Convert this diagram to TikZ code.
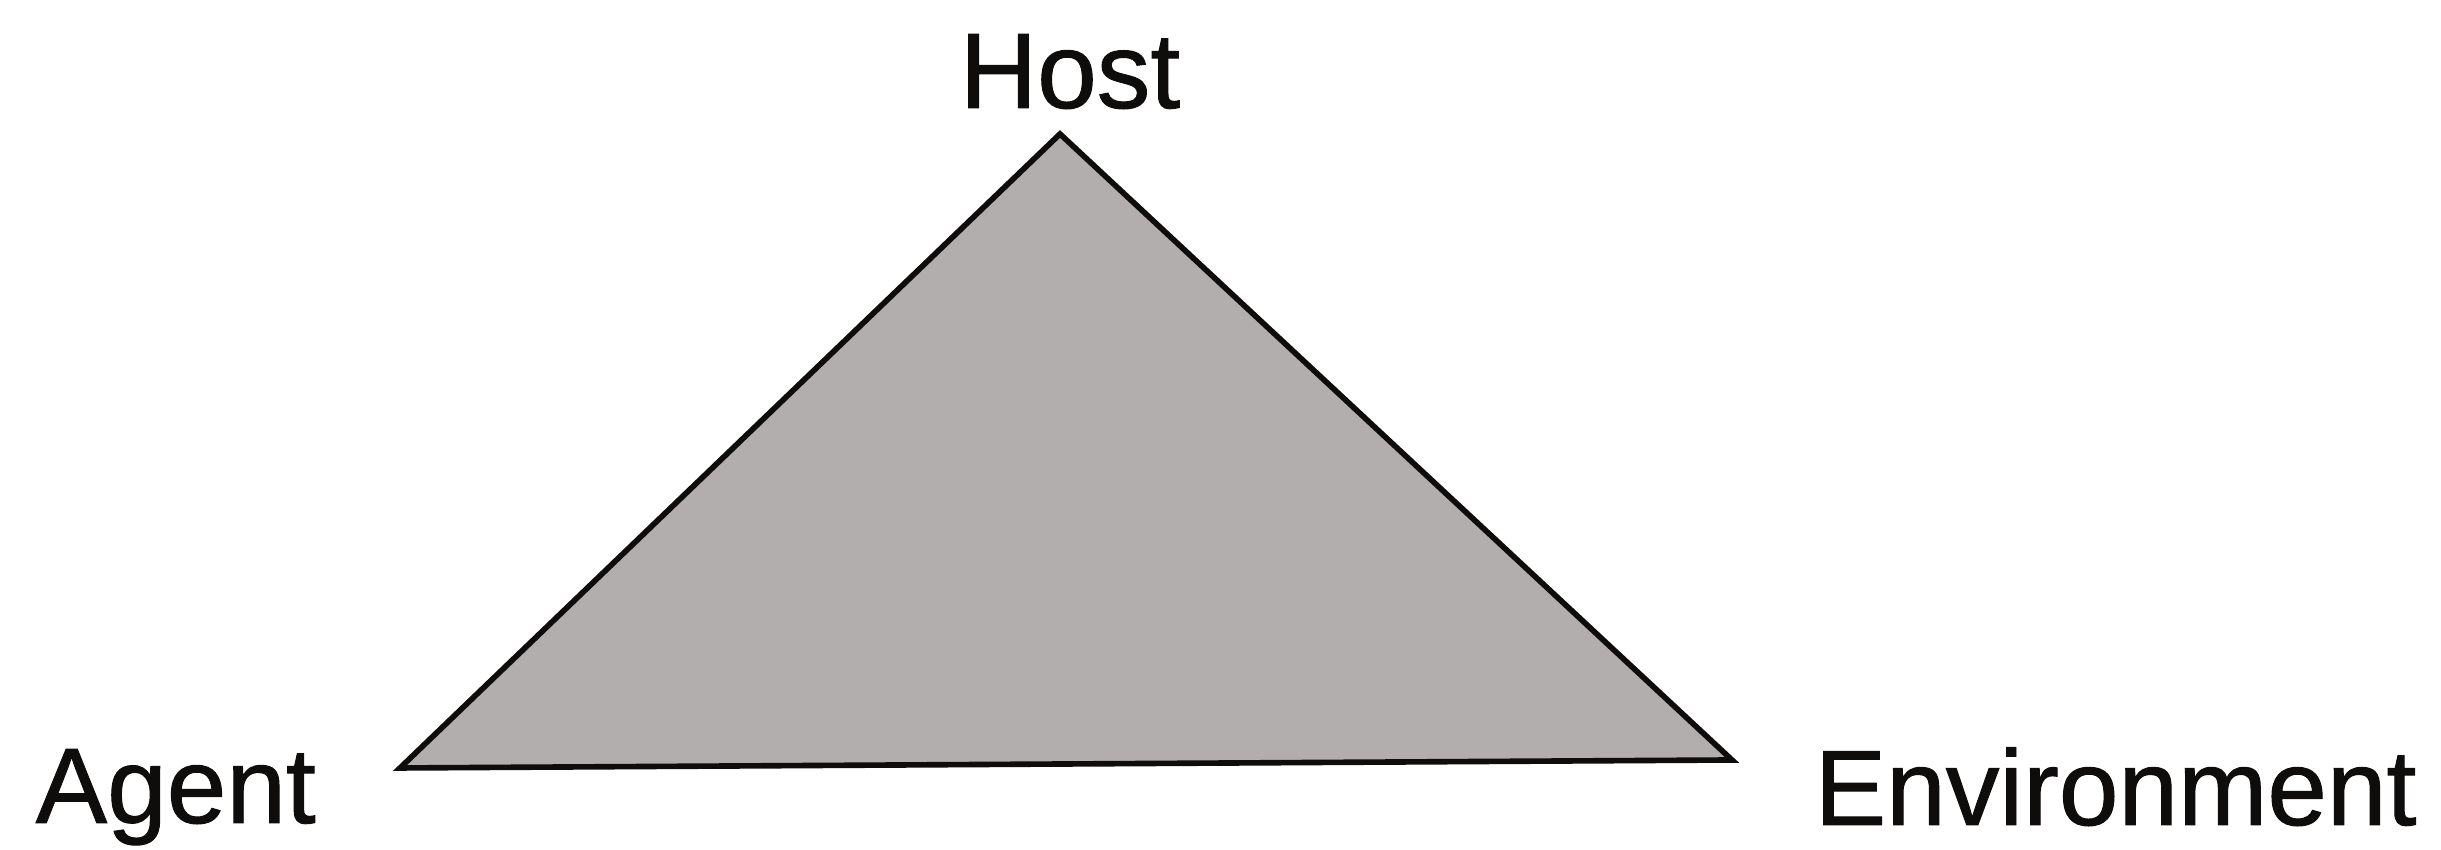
\documentclass[tikz,border=0pt]{standalone}
\usepackage{xcolor}
\usepackage{fontspec}
\setmainfont{Liberation Sans}
\newfontfamily\labelfont[FakeBold=0.9]{Liberation Sans}
\usepackage{tikz}
\usetikzlibrary{positioning, calc}
\definecolor{mydark}{RGB}{15,12,12}
\definecolor{trifill}{RGB}{178,174,174}
\tikzset{
  vertexlabel/.style={inner sep=0pt, font=\labelfont\fontsize{30.5}{36}\selectfont, text=mydark},
  triangle/.style={draw=mydark, fill=trifill, line width=1.6pt, line join=miter}
}

\begin{document}
\begin{tikzpicture}
  \useasboundingbox (0,0) rectangle (24.41,8.5);
  % Coordinates
  \coordinate (apex) at (10.60,7.16);
  \coordinate (agent_corner) at (4.00,0.82);
  \coordinate (env_corner) at (17.32,0.90);

  % Triangle
  \draw[triangle] (apex) -- (agent_corner) -- (env_corner) -- cycle;

  % Labels
  \node[vertexlabel, anchor=base] (host) at (10.70,7.42) {Host};
  \node[vertexlabel, anchor=base west] (agent) at (0.35,0.27) {Agent};
  \node[vertexlabel, anchor=base west] (environment) at (18.14,0.25) {Environment};
\end{tikzpicture}
\end{document}
